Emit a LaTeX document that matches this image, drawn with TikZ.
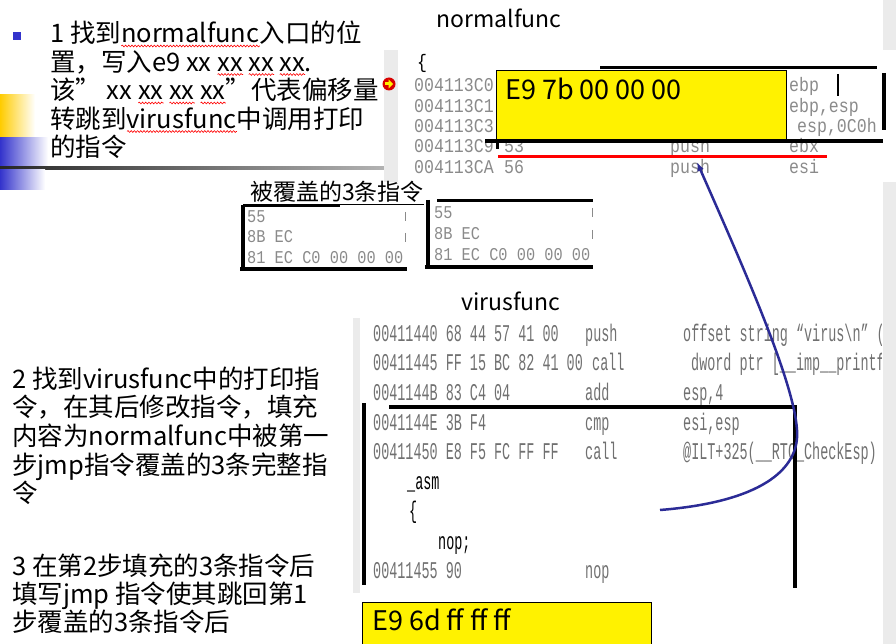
\documentclass[tikz,border=0pt]{standalone}
\usepackage{fontspec}
\setmainfont{Noto Sans CJK SC}
\newfontfamily\codefont[FakeStretch=0.85]{Liberation Mono}
\newfontfamily\narrowfont[FakeStretch=0.56]{Liberation Mono}
\usetikzlibrary{arrows.meta,decorations.pathmorphing}
\definecolor{codegray}{HTML}{8A8A8A}
\definecolor{vgray}{HTML}{707070}
\definecolor{slideblue}{HTML}{3333CC}
\definecolor{slideyellow}{HTML}{FFCC00}
\definecolor{curveblue}{HTML}{2B2B96}
\definecolor{panelgray}{HTML}{EBEBEB}
\newsavebox\wavebox
\newcommand\redwave[1]{\sbox\wavebox{#1}\leavevmode\rlap{\tikz[baseline=0pt,x=1pt,y=1pt]\draw[red,line width=0.6pt,decorate,decoration={snake,amplitude=0.9pt,segment length=3.2pt}] (0pt,-3pt) -- (\wd\wavebox,-3pt);}\usebox\wavebox}
\tikzset{
  para/.style={anchor=base west,inner sep=0pt,font=\fontsize{25.5}{28.5}\selectfont},
  title/.style={inner sep=0pt,font=\fontsize{23}{23}\selectfont},
  asm/.style={anchor=base west,inner sep=0pt,text=codegray,font=\codefont\fontsize{19.5}{19.5}\selectfont},
  smallasm/.style={asm,font=\codefont\fontsize{18}{18}\selectfont},
  vasm/.style={anchor=base west,inner sep=0pt,text=vgray,font=\narrowfont\fontsize{24}{24}\selectfont},
  src/.style={vasm,text=black},
  patchtext/.style={anchor=base west,inner sep=0pt,font=\fontsize{27}{27}\selectfont},
  patch/.style={fill=yellow,draw=black,line width=0.8pt},
  bar/.style={line width=4pt}
}

\begin{document}
\begin{tikzpicture}[x=1pt,y=-1pt]
  \useasboundingbox (0,0) rectangle (896,644);
  % slide decorations
  \fill[slideblue] (13,32) rectangle (21,40);
  \shade[left color=slideyellow,right color=white] (0,95) rectangle (35,138);
  \shade[left color=slideblue,right color=white] (0,138) rectangle (48,166);
  \shade[left color=black!85,right color=black!30] (0,166.5) rectangle (384,169.5);
  \shade[left color=slideblue,right color=white] (0,170) rectangle (45,190);
  \fill[panelgray] (384,50) rectangle (398,182);
  \fill[panelgray] (883,0) rectangle (896,50);
  \fill[panelgray] (883,182) rectangle (896,644);
  \fill[panelgray] (353,318) rectangle (360,593);

  % step texts
  \foreach \ln [count=\i] in {1 找到\redwave{normalfunc}入口的位, 置，写入e9 xx \redwave{xx} \redwave{xx} \redwave{xx}., 该” xx \redwave{xx} \redwave{xx} \redwave{xx}”代表偏移量, 转跳到\redwave{virusfunc}中调用打印, 的指令}
    \node[para] (stepA\i) at (50,{43+28.5*(\i-1)}) {\ln};
  \foreach \ln [count=\i] in {2 找到virusfunc中的打印指, 令，在其后修改指令，填充, 内容为normalfunc中被第一, 步jmp指令覆盖的3条完整指, 令}
    \node[para] (stepB\i) at (12,{388+28.7*(\i-1)}) {\ln};
  \foreach \ln [count=\i] in {3 在第2步填充的3条指令后, 填写jmp 指令使其跳回第1, 步覆盖的3条指令后}
    \node[para] (stepC\i) at (12,{575+28*(\i-1)}) {\ln};

  % normalfunc listing
  \node[title] (normal) at (499,18) {normalfunc};
  \node[asm,text=black] (brace) at (417,69) {\{};
  \foreach \a/\y in {004113C0/92,004113C1/113,004113C3/133,004113C9/153,004113CA/174}
    \node[asm] (addr\a) at (414,\y) {\a};
  \node[asm] (byte53) at (504,153) {53};
  \node[asm] (byte56) at (504,174) {56};
  \node[asm] (pushA) at (670,153) {push};
  \node[asm] (pushB) at (670,174) {push};
  \node[asm] (opA) at (789,92) {ebp};
  \node[asm] (opB) at (789,113) {ebp,esp};
  \node[asm] (opC) at (797,133) {esp,0C0h};
  \node[asm] (opD) at (789,153) {ebx};
  \node[asm] (opE) at (789,174) {esi};
  \fill[red!85!black] (389,84) circle (6.5);
  \fill[yellow] (385,82.5) rectangle (389,85.5);
  \fill[yellow] (388.5,79.5) -- (393,84) -- (388.5,88.5) -- cycle;
  \draw[patch] (496,70) rectangle (786,139);
  \node[patchtext] (jmpA) at (505,100) {E9 7b 00 00 00};
  \draw[bar,line width=3pt] (600,68) -- (877,68);
  \draw[bar] (485,141) -- (883,141);
  \draw[bar,line width=3pt] (497,141) -- (497,149);
  \draw[bar] (884,73) -- (884,130);
  \draw[line width=1.5pt] (838,74) -- (838,96);
  \draw[red,line width=3pt] (498,157) -- (827,157);

  % the three covered instructions
  \node[title,anchor=base west] (covered) at (250,201) {\underline{被覆盖的3条指令}};
  \foreach \t [count=\i] in {55,8B EC,81 EC C0 00 00 00} {
    \node[smallasm] (oldA\i) at (247,{203+20*\i}) {\t};
    \node[smallasm] (oldB\i) at (434,{198+21*\i}) {\t};
  }
  \foreach \y in {212,233} \draw[codegray,line width=1pt] (405,\y) -- (405,\y+9);
  \foreach \y in {208,230} \draw[codegray,line width=1pt] (592,\y) -- (592,\y+9);
  \draw[bar,line width=3pt] (243,206) -- (340,206);
  \draw[bar] (243,205) -- (243,270);
  \draw[bar] (240,269) -- (407,269);
  \draw[bar,line width=3pt] (437,201) -- (593,201);
  \draw[bar] (428,200) -- (428,268);
  \draw[bar] (425,267) -- (593,267);

  % virusfunc listing
  \node[title] (virus) at (511,301) {virusfunc};
  \begin{scope}
    \clip (360,318) rectangle (881,600);
    \node[vasm] (vl1) at (373,341) {00411440 68 44 57 41 00};
    \node[vasm] (vm1) at (585,341) {push};
    \node[vasm] (vo1) at (683,341) {offset string “virus\textbackslash n” (};
    \node[vasm] (vl2) at (373,370) {00411445 FF 15 BC 82 41 00};
    \node[vasm] (vm2) at (592,370) {call};
    \node[vasm] (vo2) at (691,370) {dword ptr [\_\_imp\_\_printf};
    \node[vasm] (vl3) at (373,400) {0041144B 83 C4 04};
    \node[vasm] (vm3) at (585,400) {add};
    \node[vasm] (vo3) at (683,400) {esp,4};
    \node[vasm] (vl4) at (373,430) {0041144E 3B F4};
    \node[vasm] (vm4) at (585,430) {cmp};
    \node[vasm] (vo4) at (683,430) {esi,esp};
    \node[vasm] (vl5) at (373,459) {00411450 E8 F5 FC FF FF};
    \node[vasm] (vm5) at (585,459) {call};
    \node[vasm] (vo5) at (683,459) {@ILT+325(\_\_RTC\_CheckEsp)};
    \node[src] (asmkw) at (407,489) {\_asm};
    \node[src] (asmbrace) at (409,518) {\{};
    \node[src] (nop) at (438,549) {nop;};
    \node[vasm] (vl6) at (373,578) {00411455 90};
    \node[vasm] (vm6) at (585,578) {nop};
  \end{scope}
  \draw[bar] (389,407) -- (797,407);
  \draw[bar] (364,403) -- (364,585);
  \draw[bar] (795,407) -- (795,588);
  \draw[patch] (362,602) rectangle (651,650);
  \node[patchtext] (jmpB) at (372,630) {E9 6d ff ff ff};

  % jump back
  \coordinate (patchend) at (660,510);
  \coordinate (jmptarget) at (697,162);
  \draw[curveblue,line width=2.5pt,-{Latex[length=9pt,width=7pt]}] (patchend)
    .. controls (760,502) and (800,470) .. (797,430)
    .. controls (794,380) and (740,260) .. (jmptarget);
\end{tikzpicture}
\end{document}
